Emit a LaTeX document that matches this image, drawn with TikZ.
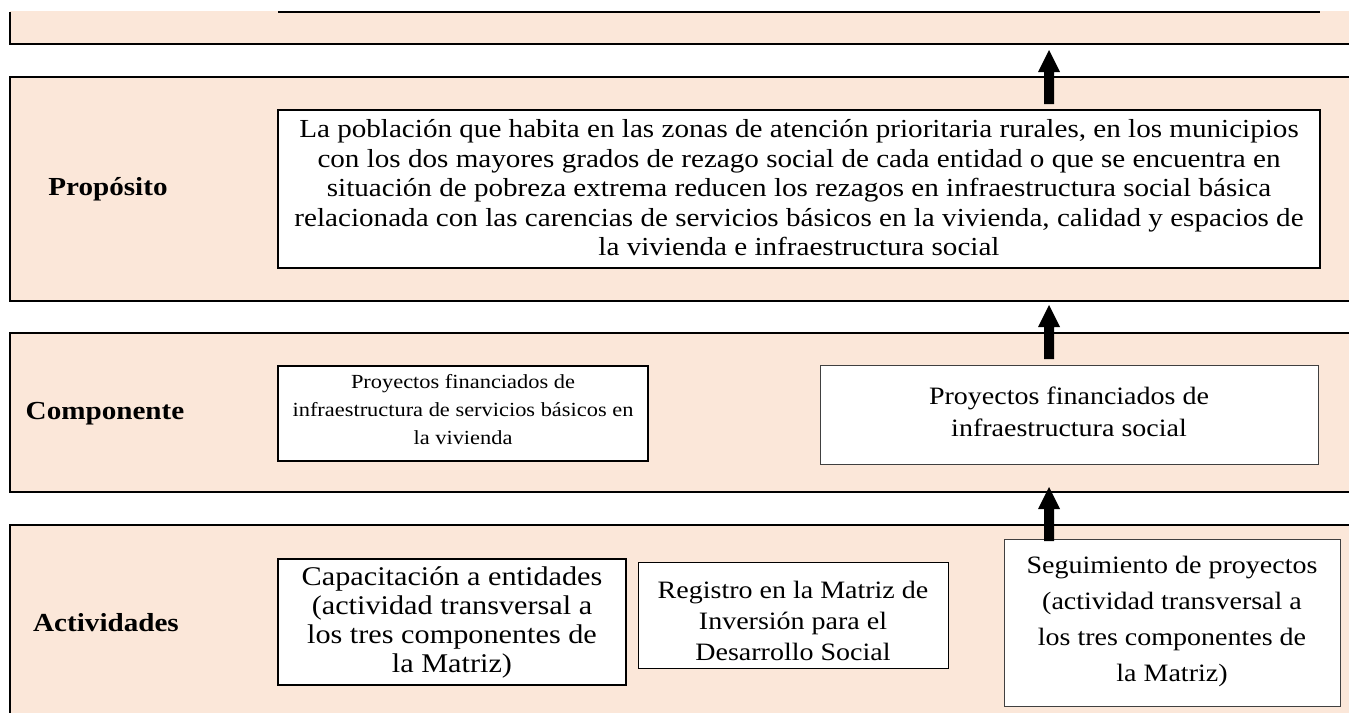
\documentclass[tikz,border=0pt]{standalone}
\usepackage{fontspec}
\setmainfont[FakeStretch=1.12]{Liberation Serif}
\definecolor{peach}{HTML}{FBE7D9}
\begin{document}
\begin{tikzpicture}[x=1pt,y=-1pt,
  bline/.style={line width=2pt},
  bigbox/.style={draw=black,line width=2pt,fill=white,inner sep=0pt},
  thinbox/.style={draw=black!75,line width=1pt,fill=white,inner sep=0pt},
  lbl/.style={font=\fontsize{26}{30}\bfseries\selectfont},
  txt/.style={font=\fontsize{25}{30}\selectfont,align=center,inner sep=0pt},
  blockarrow/.style={fill=black}
  ]
\useasboundingbox (0,0) rectangle (1349,713);
% band 1 (cut off)
\fill[peach] (10,11) rectangle (1349,44);
\draw[bline] (278,12) -- (1320,12);
\draw[bline] (10,12) -- (10,44) -- (1349,44);
% band 2
\fill[peach] (10,77) rectangle (1349,301);
\draw[bline] (1349,77) -- (10,77) -- (10,301) -- (1349,301);
% band 3
\fill[peach] (10,333) rectangle (1349,492);
\draw[bline] (1349,333) -- (10,333) -- (10,492) -- (1349,492);
% band 4
\fill[peach] (10,525) rectangle (1349,713);
\draw[bline] (1349,525) -- (10,525) -- (10,713);

% labels
\node[lbl] (lprop) at (108,189) {Propósito};
\node[lbl] (lcomp) at (105,414) {Componente};
\node[lbl] (lact) at (106,623) {Actividades};

% Proposito
\node[bigbox, minimum width=1042, minimum height=158] (prop) at (799,189) {};
\node[txt, font=\fontsize{26}{29.5}\selectfont] (proptxt) at (799,188) {La población que habita en las zonas de atención prioritaria rurales, en los municipios\\
con los dos mayores grados de rezago social de cada entidad o que se encuentra en\\
situación de pobreza extrema reducen los rezagos en infraestructura social básica\\
relacionada con las carencias de servicios básicos en la vivienda, calidad y espacios de\\
la vivienda e infraestructura social};

% Componentes
\node[bigbox, minimum width=370, minimum height=95] (comp1) at (463,413.5) {};
\node[txt, font=\fontsize{20}{28}\selectfont] (comp1txt) at (463,410) {Proyectos financiados de\\infraestructura de servicios básicos en\\la vivienda};
\node[thinbox, minimum width=498, minimum height=99] (comp2) at (1069,414.5) {};
\node[txt, font=\fontsize{25}{32}\selectfont] (comp2txt) at (1069,412) {Proyectos financiados de\\infraestructura social};

% Actividades
\node[bigbox, minimum width=348, minimum height=126] (act1) at (452,622) {};
\node[txt, font=\fontsize{27}{29}\selectfont] (act1txt) at (452,622) {Capacitación a entidades\\(actividad transversal a\\los tres componentes de\\la Matriz)};
\node[thinbox, draw=black, minimum width=310, minimum height=106] (act2) at (793,615) {};
\node[txt, font=\fontsize{25}{31}\selectfont] (act2txt) at (793,621) {Registro en la Matriz de\\Inversión para el\\Desarrollo Social};
\node[thinbox, minimum width=336, minimum height=167] (act3) at (1172,622.5) {};
\node[txt, font=\fontsize{25}{36}\selectfont] (act3txt) at (1172,621) {Seguimiento de proyectos\\(actividad transversal a\\los tres componentes de\\la Matriz)};

% block arrows between levels
\coordinate (t1) at (1049,50);
\coordinate (t2) at (1049,305);
\coordinate (t3) at (1049,487);
\foreach \t in {t1,t2,t3}{
  \fill[blockarrow] (\t) -- ++(11,22) -- ++(-6,0) -- ++(0,32) -- ++(-10,0) -- ++(0,-32) -- ++(-6,0) -- cycle;
}
\end{tikzpicture}
\end{document}
